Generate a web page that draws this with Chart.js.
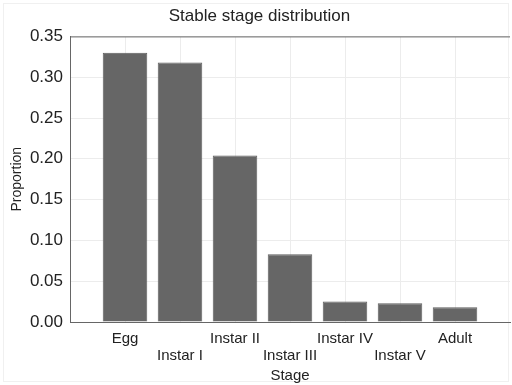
<!DOCTYPE html>
<html>
<head>
<meta charset="utf-8">
<script src="https://cdn.jsdelivr.net/npm/chart.js@4"></script>
<style>
  html, body { margin: 0; padding: 0; background: #fff; }
  #chart { display: block; }
</style>
</head>
<body>
<canvas id="chart" width="512" height="385"></canvas>
<script>
const stages = ["Egg", "Instar I", "Instar II", "Instar III", "Instar IV", "Instar V", "Adult"];
const proportions = [0.330, 0.318, 0.204, 0.083, 0.025, 0.023, 0.018];
const yTicks = [0, 0.05, 0.1, 0.15, 0.2, 0.25, 0.3, 0.35];

const font = "'Liberation Sans', Arial, Helvetica, sans-serif";

// white page, faint frame, and the top edge of the plot box
const boxPlugin = {
  id: "box",
  beforeDraw(chart) {
    const ctx = chart.ctx;
    ctx.save();
    ctx.fillStyle = "#fff";
    ctx.fillRect(0, 0, chart.width, chart.height);
    ctx.strokeStyle = "#f0f0f0";
    ctx.strokeRect(3.5, 3.5, chart.width - 7, chart.height - 7);
    ctx.restore();
  },
  afterDraw(chart) {
    const { left, right, top } = chart.chartArea;
    const ctx = chart.ctx;
    ctx.save();
    ctx.strokeStyle = "#666";
    ctx.lineWidth = 1;
    ctx.beginPath();
    ctx.moveTo(left, top + 0.5);
    ctx.lineTo(right, top + 0.5);
    ctx.stroke();
    ctx.restore();
  }
};

new Chart(document.getElementById("chart"), {
  type: "bar",
  data: {
    datasets: [
      {
        label: "Proportion",
        data: stages.map((s, i) => ({ x: i + 1, y: proportions[i] })),
        backgroundColor: "#666666",
        borderColor: "#5e5e5e",
        borderWidth: 1,
        barPercentage: 1,
        categoryPercentage: 0.81,
      },
    ],
  },
  options: {
    responsive: false,
    animation: false,
    layout: { padding: { left: 9, right: 2, top: 0, bottom: 0 } },
    plugins: {
      legend: { display: false },
      tooltip: { enabled: false },
      title: {
        display: true,
        text: "Stable stage distribution",
        color: "#222",
        font: { family: font, size: 17, weight: "normal" },
        padding: { top: 6, bottom: 10 },
      },
    },
    scales: {
      x: {
        type: "linear",
        offset: false,
        min: 0,
        max: stages.length + 1,
        afterBuildTicks(scale) {
          scale.ticks = stages.map((s, i) => ({ value: i + 1 }));
        },
        afterFit(scale) {
          scale.height = 63;
        },
        grid: { color: "#ececec", drawTicks: false, offset: false },
        border: { color: "#666", width: 1 },
        ticks: {
          color: "#222",
          padding: 8,
          maxRotation: 0,
          autoSkip: false,
          font: { family: font, size: 15, lineHeight: 1.15 },
          callback: (value) => {
            const i = Math.round(value) - 1;
            const name = stages[i] || "";
            return i % 2 === 1 ? ["", name] : name;
          },
        },
        title: {
          display: true,
          text: "Stage",
          color: "#222",
          font: { family: font, size: 15 },
          padding: { top: 0, bottom: 0 },
        },
      },
      y: {
        min: 0,
        max: 0.35,
        afterBuildTicks(scale) {
          scale.ticks = yTicks.map((v) => ({ value: v }));
        },
        afterFit(scale) {
          scale.width = 61;
        },
        grid: { color: "#ececec", drawTicks: false },
        border: { color: "#666", width: 1 },
        ticks: {
          color: "#222",
          padding: 7,
          font: { family: font, size: 17 },
          callback: (value) => value.toFixed(2),
        },
        title: {
          display: true,
          text: "Proportion",
          color: "#222",
          font: { family: font, size: 14 },
          padding: { top: 0, bottom: 0 },
        },
      },
    },
  },
  plugins: [boxPlugin],
});
</script>
</body>
</html>
